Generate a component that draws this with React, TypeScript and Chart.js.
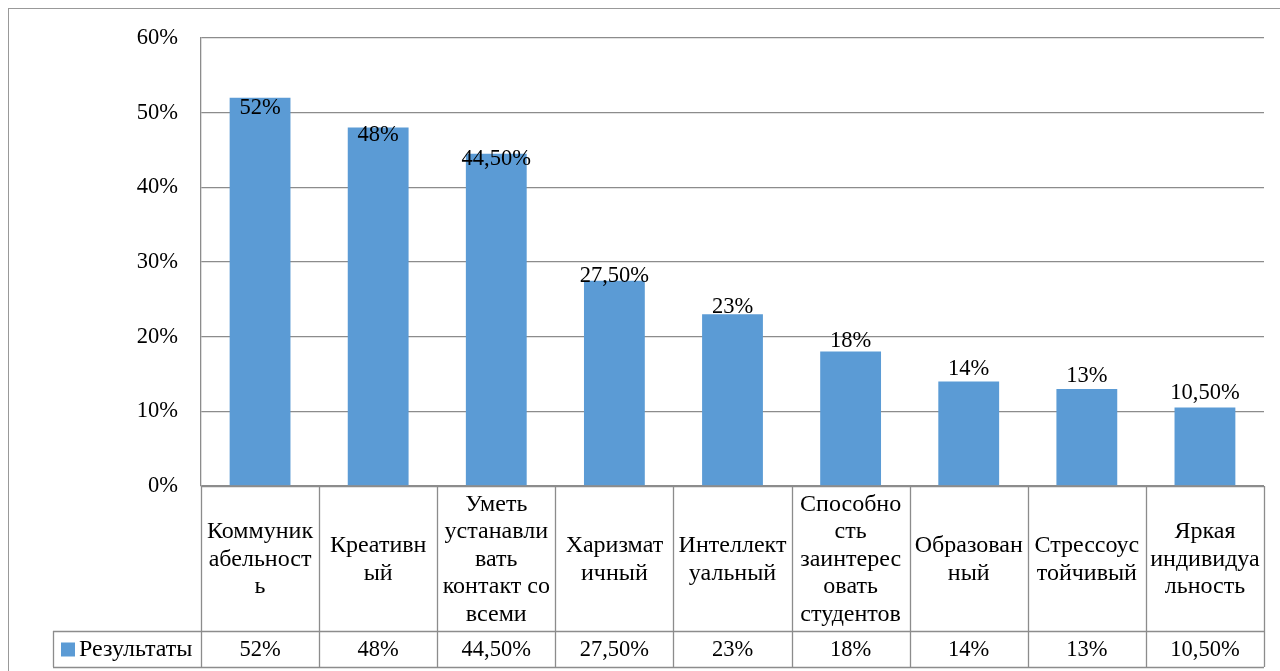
import React, { useEffect, useRef } from "react";
import { Chart, registerables } from "chart.js";

Chart.register(...registerables);

const seriesName = "Результаты";
const categories: string[][] = [
  ["Коммуник", "абельност", "ь"],
  ["Креативн", "ый"],
  ["Уметь", "устанавли", "вать", "контакт со", "всеми"],
  ["Харизмат", "ичный"],
  ["Интеллект", "уальный"],
  ["Способно", "сть", "заинтерес", "овать", "студентов"],
  ["Образован", "ный"],
  ["Стрессоус", "тойчивый"],
  ["Яркая", "индивидуа", "льность"],
];
const values: number[] = [52, 48, 44.5, 27.5, 23, 18, 14, 13, 10.5];
const yTicks: number[] = [0, 10, 20, 30, 40, 50, 60];

const FONT = '"Liberation Serif", "Times New Roman", serif';
const BAR = "#5B9BD5";
const LINE = "#8c8c8c";

function fmt(v: number): string {
  return Number.isInteger(v) ? `${v}%` : `${v.toFixed(2).replace(".", ",")}%`;
}

const tablePlugin = {
  id: "tablePlugin",
  afterDraw(chart: any) {
    const ctx: CanvasRenderingContext2D = chart.ctx;
    const x = chart.scales.x;
    const y = chart.scales.y;
    const area = chart.chartArea;
    const n = values.length;
    const step = (area.right - area.left) / n;
    const rowTop = area.bottom;
    const rowMid = rowTop + 145;
    const rowBot = rowMid + 36;
    const legendLeft = 53;

    ctx.save();
    // outer frame
    ctx.strokeStyle = "#999";
    ctx.lineWidth = 1;
    ctx.strokeRect(8.5, 8.5, chart.width + 20, chart.height + 20);

    // data labels
    ctx.fillStyle = "#000";
    ctx.font = `22.5px ${FONT}`;
    ctx.textAlign = "center";
    ctx.textBaseline = "alphabetic";
    values.forEach((v, i) => {
      const cx = x.getPixelForValue(i);
      const by = y.getPixelForValue(v * 0.92) - 15;
      ctx.fillText(fmt(v), cx, by);
    });

    // table lines
    ctx.strokeStyle = LINE;
    ctx.lineWidth = 1.3;
    ctx.beginPath();
    ctx.moveTo(area.left, rowTop + 0.5);
    ctx.lineTo(area.right, rowTop + 0.5);
    ctx.moveTo(legendLeft, rowMid + 0.5);
    ctx.lineTo(area.right, rowMid + 0.5);
    ctx.moveTo(legendLeft, rowBot + 0.5);
    ctx.lineTo(area.right, rowBot + 0.5);
    for (let i = 0; i <= n; i++) {
      const lx = Math.round(area.left + i * step) + 0.5;
      ctx.moveTo(lx, rowTop);
      ctx.lineTo(lx, rowBot);
    }
    ctx.moveTo(legendLeft + 0.5, rowMid);
    ctx.lineTo(legendLeft + 0.5, rowBot);
    ctx.stroke();

    // category labels
    ctx.fillStyle = "#000";
    ctx.font = `24px ${FONT}`;
    ctx.textAlign = "center";
    ctx.textBaseline = "middle";
    const lh = 27.6;
    const cellMid = (rowTop + rowMid) / 2 + 1;
    categories.forEach((lines, i) => {
      const cx = x.getPixelForValue(i);
      const start = cellMid - ((lines.length - 1) * lh) / 2;
      lines.forEach((t, j) => ctx.fillText(t, cx, start + j * lh));
    });

    // values row
    const vMid = (rowMid + rowBot) / 2 + 1;
    ctx.font = `22.5px ${FONT}`;
    values.forEach((v, i) => {
      ctx.fillText(fmt(v), x.getPixelForValue(i), vMid);
    });

    // legend key
    ctx.fillStyle = BAR;
    ctx.fillRect(61, vMid - 7.5, 14, 14);
    ctx.fillStyle = "#000";
    ctx.textAlign = "left";
    ctx.font = `24px ${FONT}`;
    ctx.fillText(seriesName, 79, vMid);
    ctx.restore();
  },
};

export default function App() {
  const ref = useRef<HTMLCanvasElement | null>(null);
  useEffect(() => {
    if (!ref.current) return;
    const chart = new Chart(ref.current, {
      type: "bar",
      data: {
        labels: categories.map((c) => c.join("")),
        datasets: [
          {
            label: seriesName,
            data: values,
            backgroundColor: BAR,
            borderWidth: 0,
            categoryPercentage: 1,
            barPercentage: 0.515,
          },
        ],
      },
      options: {
        animation: false,
        responsive: true,
        maintainAspectRatio: false,
        layout: { padding: { left: 0, top: 38, right: 16, bottom: 185 } },
        plugins: {
          legend: { display: false },
          tooltip: { enabled: false },
        },
        scales: {
          x: { display: false },
          y: {
            min: 0,
            max: 60,
            afterFit: (s: any) => {
              s.width = 201;
            },
            afterBuildTicks: (s: any) => {
              s.ticks = yTicks.map((v) => ({ value: v }));
            },
            ticks: {
              callback: (v: any) => `${v}%`,
              color: "#000",
              font: { family: FONT, size: 22.5 },
              padding: 23,
            },
            grid: { color: LINE, lineWidth: 1.3, drawTicks: false },
            border: { color: LINE, width: 1.3 },
          },
        },
      },
      plugins: [tablePlugin],
    });
    return () => chart.destroy();
  }, []);
  return (
    <div style={{ position: "fixed", left: 0, top: 0, width: 1280, height: 671, background: "#fff" }}>
      <canvas ref={ref} />
    </div>
  );
}
